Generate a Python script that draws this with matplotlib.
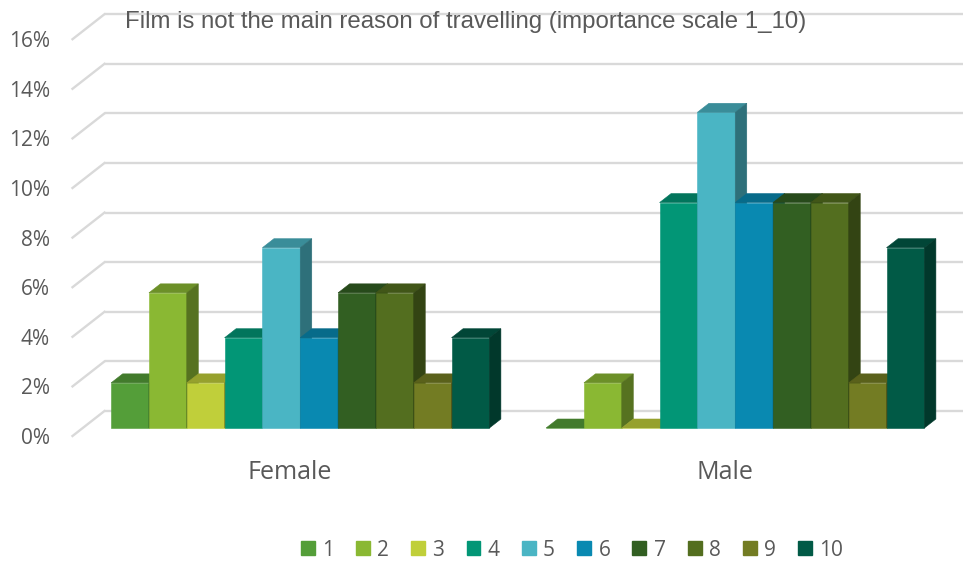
import numpy as np
import matplotlib
matplotlib.use("Agg")
import matplotlib.pyplot as plt
from matplotlib.patches import Polygon, Patch
from matplotlib.colors import to_rgb

# ---- data -------------------------------------------------------------
title = "Film is not the main reason of travelling (importance scale 1_10)"
groups = ["Female", "Male"]
scores = ["1", "2", "3", "4", "5", "6", "7", "8", "9", "10"]
female = [1.82, 5.45, 1.82, 3.64, 7.27, 3.64, 5.45, 5.45, 1.82, 3.64]
male = [0.0, 1.82, 0.0, 9.09, 12.73, 9.09, 9.09, 9.09, 1.82, 7.27]
yticks = [0, 2, 4, 6, 8, 10, 12, 14, 16]
colors = ["#549E39", "#8AB833", "#C0CF3A", "#029676", "#4AB5C4",
          "#0989B1", "#325F22", "#536E1F", "#737C23", "#015A46"]

# ---- layout -----------------------------------------------------------
W, H, DPI = 963, 563, 100
fig = plt.figure(figsize=(W / DPI, H / DPI), dpi=DPI)
ax = fig.add_axes([0, 0, 1, 1])
ax.axis("off")

# front plane: x pixel = 290 + 435*c ; y pixel (from top) = 436 - 24.8*v
PX_C0, PX_PER_CAT = 290.0, 435.0
PY_V0, PX_PER_PCT = 436.0, 24.8
ax.set_xlim(-PX_C0 / PX_PER_CAT, (W - PX_C0) / PX_PER_CAT)
ax.set_ylim((PY_V0 - H) / PX_PER_PCT, PY_V0 / PX_PER_PCT)

# oblique depth offset (full depth of the floor), in data units
KX = 32.0 / PX_PER_CAT
KY = 25.0 / PX_PER_PCT
D_FRONT, D_BACK = 0.32, 0.68

def shift(x, y, d):
    return (x + d * KX, y + d * KY)

def shade(c, f):
    r, g, b = to_rgb(c)
    return (r * f, g * f, b * f)

grid_c = "#D9D9D9"
text_c = "#595959"

# back wall gridlines and the slanted side-wall lines
for v in yticks:
    ax.plot([-0.5 + KX, 1.7 + KX], [v + KY, v + KY], color=grid_c, lw=1.7,
            zorder=1, solid_capstyle="butt")
    ax.plot([-0.5, -0.5 + KX], [v, v + KY], color=grid_c, lw=1.7, zorder=1)
    ax.text(-0.552, v - 0.1, f"{v}%", ha="right", va="center", fontsize=15,
            color=text_c, family="Open Sans")

# bars with front, top and side faces
GAP = 1.5
slot = 1.0 / (len(scores) + GAP)
for gi, vals in enumerate([female, male]):
    for i, (v, col) in enumerate(zip(vals, colors)):
        left = gi - 0.5 + (GAP / 2 + i) * slot
        right = left + slot
        ax.bar(left + D_FRONT * KX, v, width=slot, bottom=D_FRONT * KY,
               align="edge", color=col, linewidth=0.4, edgecolor=col, zorder=3)
        top = [shift(left, v, D_FRONT), shift(right, v, D_FRONT),
               shift(right, v, D_BACK), shift(left, v, D_BACK)]
        tc = shade(col, 0.78)
        ax.add_patch(Polygon(top, closed=True, facecolor=tc, edgecolor=tc,
                             linewidth=0.4, zorder=3))
        side = [shift(right, 0, D_FRONT), shift(right, v, D_FRONT),
                shift(right, v, D_BACK), shift(right, 0, D_BACK)]
        sc = shade(col, 0.62)
        ax.add_patch(Polygon(side, closed=True, facecolor=sc, edgecolor=sc,
                             linewidth=0.4, zorder=3))

# category labels
for gi, g in enumerate(groups):
    ax.text(gi, -1.49, g, ha="center", va="center", fontsize=18,
            color=text_c, family="Open Sans")

# title
fig.text(125 / W, 1 - 22 / H, title, ha="left", va="center", fontsize=17.3,
         color=text_c, family="Liberation Sans")

# legend
handles = [Patch(facecolor=c, edgecolor=c) for c in colors]
leg = fig.legend(handles, scores, loc="center", ncol=10,
                 bbox_to_anchor=(572 / W, 1 - 550 / H), frameon=False,
                 handlelength=0.67, handleheight=0.67, handletextpad=0.35,
                 columnspacing=1.06, prop={"family": "Open Sans", "size": 15})
for t in leg.get_texts():
    t.set_color(text_c)

fig.savefig("out.png", dpi=DPI)
